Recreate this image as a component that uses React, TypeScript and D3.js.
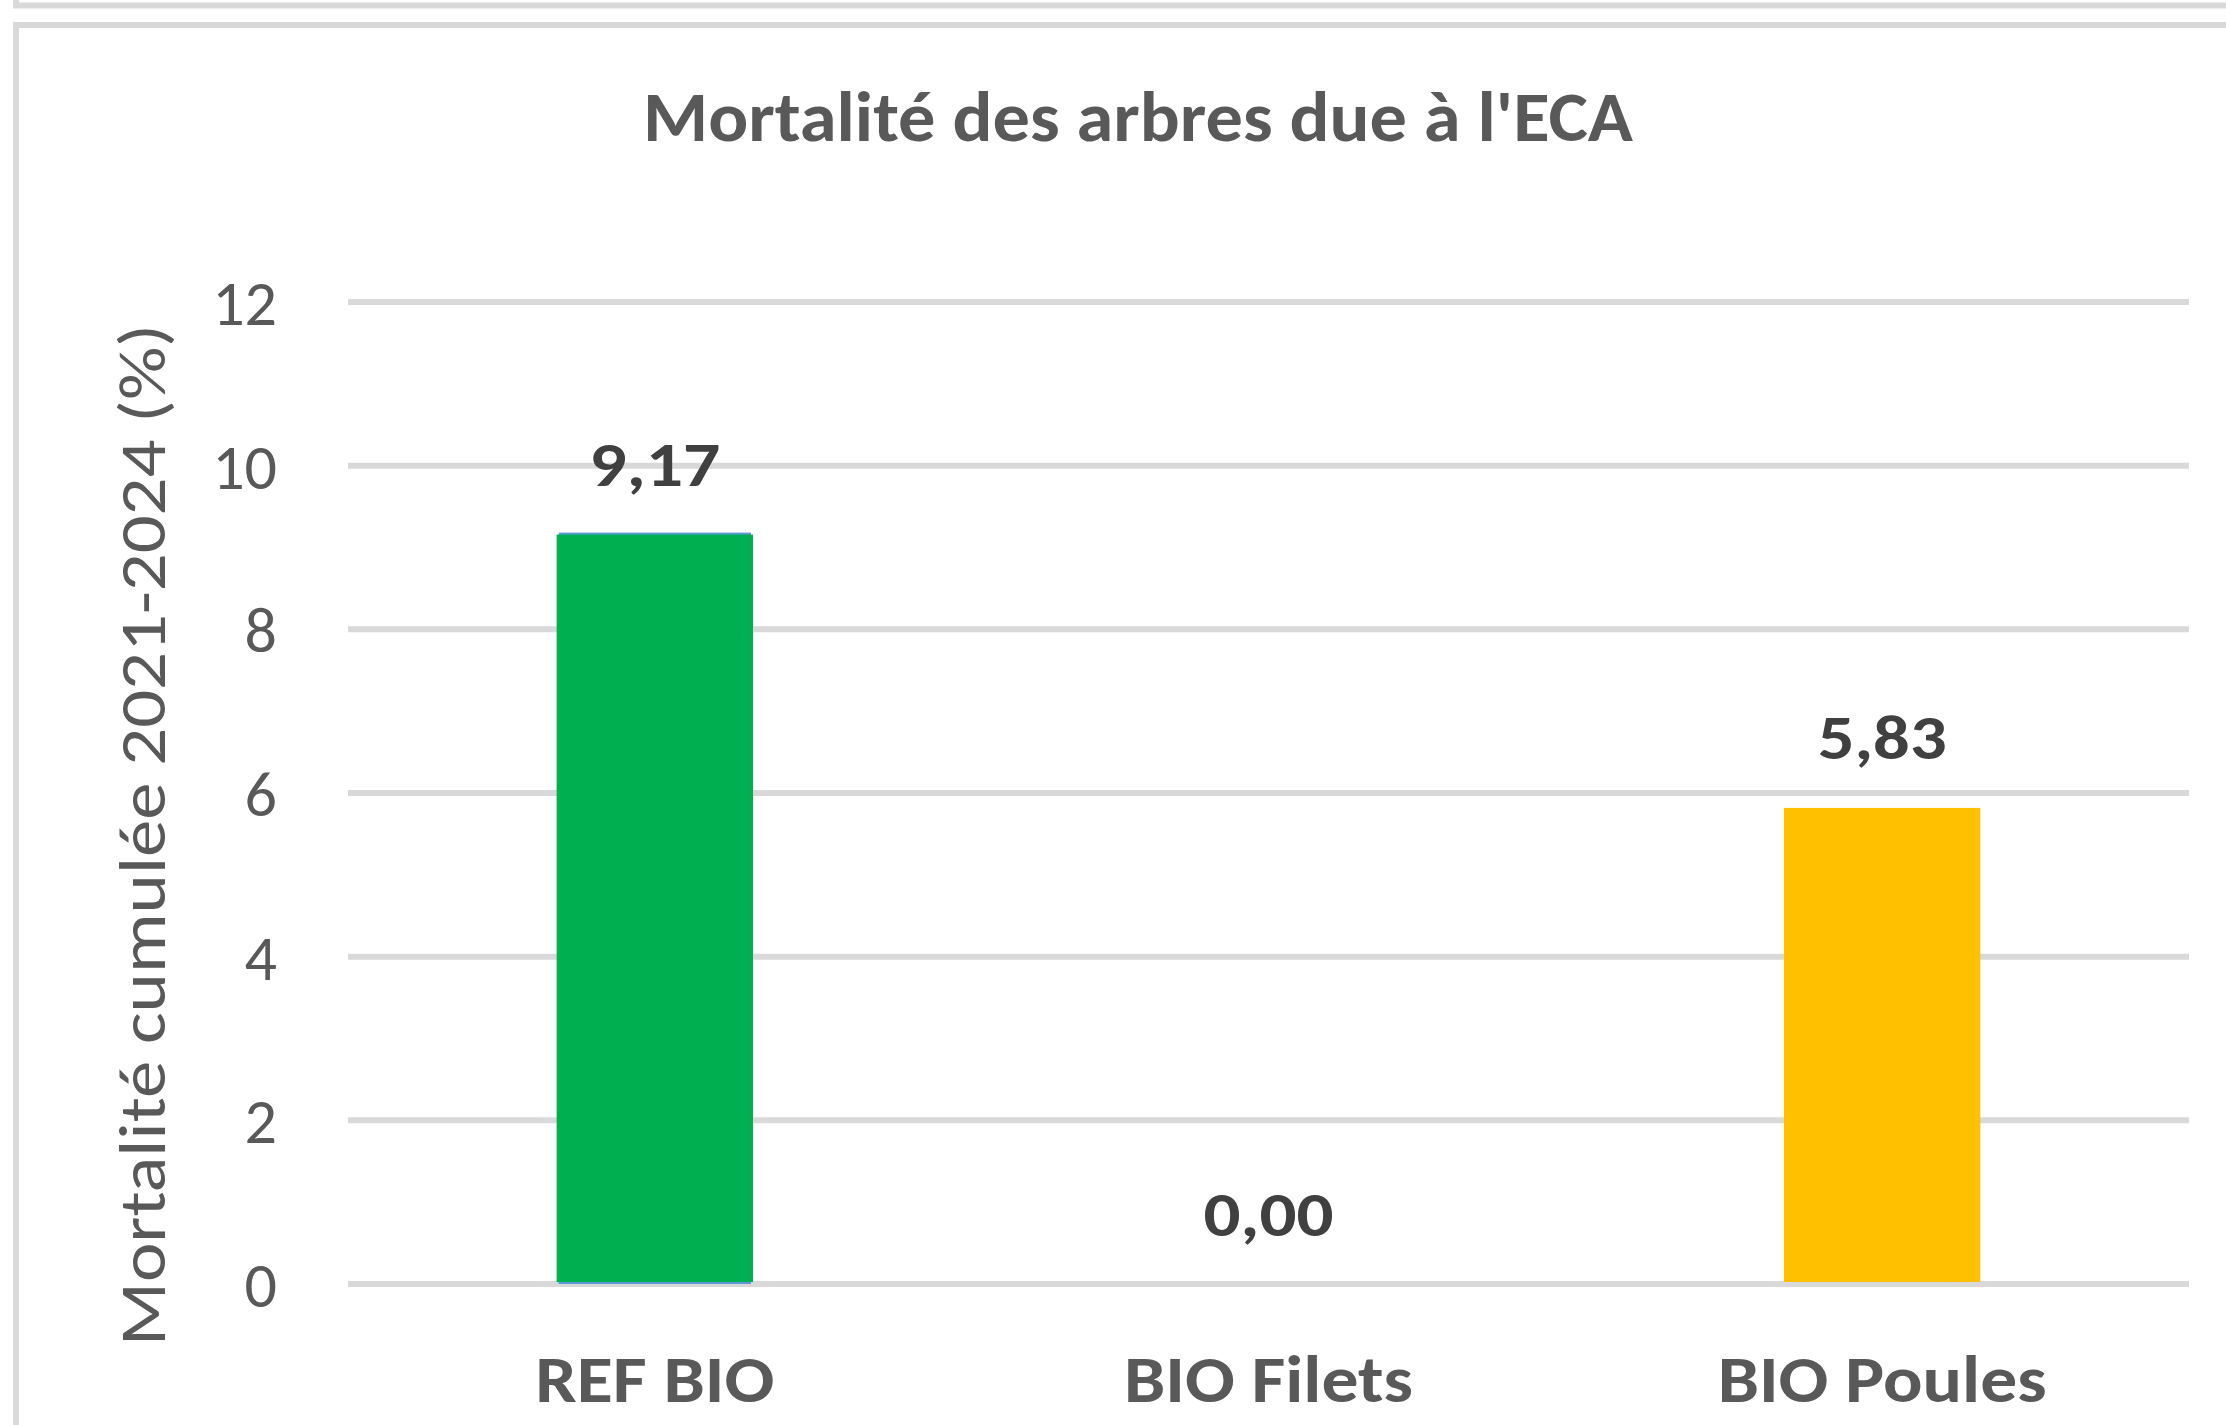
import React, { useEffect } from 'react';
import * as d3 from 'd3';

const categories = ['REF BIO', 'BIO Filets', 'BIO Poules'];
const values = [9.17, 0.0, 5.83];
const barColors = ['#00B050', '#00B050', '#FFC000'];
const yTicks = [0, 2, 4, 6, 8, 10, 12];
const title = "Mortalité des arbres due à l'ECA";
const yTitle = 'Mortalité cumulée 2021-2024 (%)';

const FONT = "Carlito, 'Open Sans', 'Liberation Sans', sans-serif";

const App = () => {
  useEffect(() => {
    drawChart();
  }, []);

  const drawChart = () => {
    d3.select('#bar-chart').select('svg').remove();

    const W = 2226;
    const H = 1425;
    const plot = { left: 348, right: 2189, top: 302, bottom: 1284 };

    const svg = d3
      .select('#bar-chart')
      .append('svg')
      .attr('width', W)
      .attr('height', H)
      .style('position', 'absolute')
      .style('left', 0)
      .style('top', 0)
      .style('background', '#fff');

    // frames (previous chart's bottom edge + this chart's border)
    svg.append('line').attr('x1', 13).attr('x2', W).attr('y1', 5.5).attr('y2', 5.5)
      .attr('stroke', '#d9d9d9').attr('stroke-width', 6);
    svg.append('line').attr('x1', 16).attr('x2', 16).attr('y1', 0).attr('y2', 8)
      .attr('stroke', '#d9d9d9').attr('stroke-width', 6);
    svg.append('rect').attr('x', 16).attr('y', 25).attr('width', W + 50).attr('height', H + 50)
      .attr('fill', 'none').attr('stroke', '#d9d9d9').attr('stroke-width', 6);

    const x = d3.scaleBand<string>().domain(categories).range([plot.left, plot.right]).paddingInner(0.68).paddingOuter(0.34);
    const y = d3.scaleLinear().domain([0, 12]).range([plot.bottom, plot.top]);

    // gridlines
    svg
      .append('g')
      .selectAll('line')
      .data(yTicks)
      .enter()
      .append('line')
      .attr('x1', plot.left)
      .attr('x2', plot.right)
      .attr('y1', (d) => y(d))
      .attr('y2', (d) => y(d))
      .attr('stroke', '#d9d9d9')
      .attr('stroke-width', 6);

    // tick labels
    svg
      .append('g')
      .selectAll('text')
      .data(yTicks)
      .enter()
      .append('text')
      .attr('x', 277)
      .attr('y', (d) => y(d) + 23)
      .attr('text-anchor', 'end')
      .attr('font-family', FONT)
      .attr('font-size', 64)
      .attr('fill', '#595959')
      .text((d) => d);

    // bars (thin blue edge underneath like the original)
    const bars = svg.append('g');
    categories.forEach((c, i) => {
      if (values[i] <= 0) return;
      const bx = x(c) as number;
      const bw = x.bandwidth();
      if (i === 0) {
        bars.append('rect')
          .attr('x', bx + 2).attr('width', bw - 4)
          .attr('y', y(values[i]) - 1).attr('height', y(0) - y(values[i]) + 1)
          .attr('fill', '#5B9BD5');
      }
      bars.append('rect')
        .attr('x', bx)
        .attr('width', bw)
        .attr('y', y(values[i]) + 1)
        .attr('height', y(0) - y(values[i]) - 3)
        .attr('fill', barColors[i]);
    });

    // data labels
    const labelWidths = [131, 130, 129];
    svg
      .append('g')
      .selectAll('text')
      .data(values)
      .enter()
      .append('text')
      .attr('x', (d, i) => (x(categories[i]) as number) + x.bandwidth() / 2)
      .attr('y', (d) => y(d) - 48)
      .attr('text-anchor', 'middle')
      .attr('font-family', FONT)
      .attr('font-weight', 'bold')
      .attr('font-size', 62)
      .attr('fill', '#404040')
      .attr('textLength', (d, i) => labelWidths[i])
      .attr('lengthAdjust', 'spacingAndGlyphs')
      .text((d) => d.toFixed(2).replace('.', ','));

    // category labels
    const catWidths = [239, 289, 329];
    svg
      .append('g')
      .selectAll('text')
      .data(categories)
      .enter()
      .append('text')
      .attr('x', (d) => (x(d) as number) + x.bandwidth() / 2)
      .attr('y', 1402)
      .attr('text-anchor', 'middle')
      .attr('font-family', FONT)
      .attr('font-weight', 'bold')
      .attr('font-size', 66)
      .attr('fill', '#595959')
      .attr('textLength', (d, i) => catWidths[i])
      .attr('lengthAdjust', 'spacingAndGlyphs')
      .text((d) => d);

    // title
    svg
      .append('text')
      .attr('x', 1138)
      .attr('y', 141)
      .attr('text-anchor', 'middle')
      .attr('font-family', FONT)
      .attr('font-weight', 600)
      .attr('font-size', 70)
      .attr('fill', '#595959')
      .attr('textLength', 990)
      .attr('lengthAdjust', 'spacingAndGlyphs')
      .text(title);

    // y axis title
    svg
      .append('text')
      .attr('transform', 'translate(165,835) rotate(-90)')
      .attr('text-anchor', 'middle')
      .attr('font-family', FONT)
      .attr('font-size', 66)
      .attr('fill', '#595959')
      .attr('textLength', 1022)
      .attr('lengthAdjust', 'spacingAndGlyphs')
      .text(yTitle);
  };

  return <div id="bar-chart"></div>;
};

export default App;
